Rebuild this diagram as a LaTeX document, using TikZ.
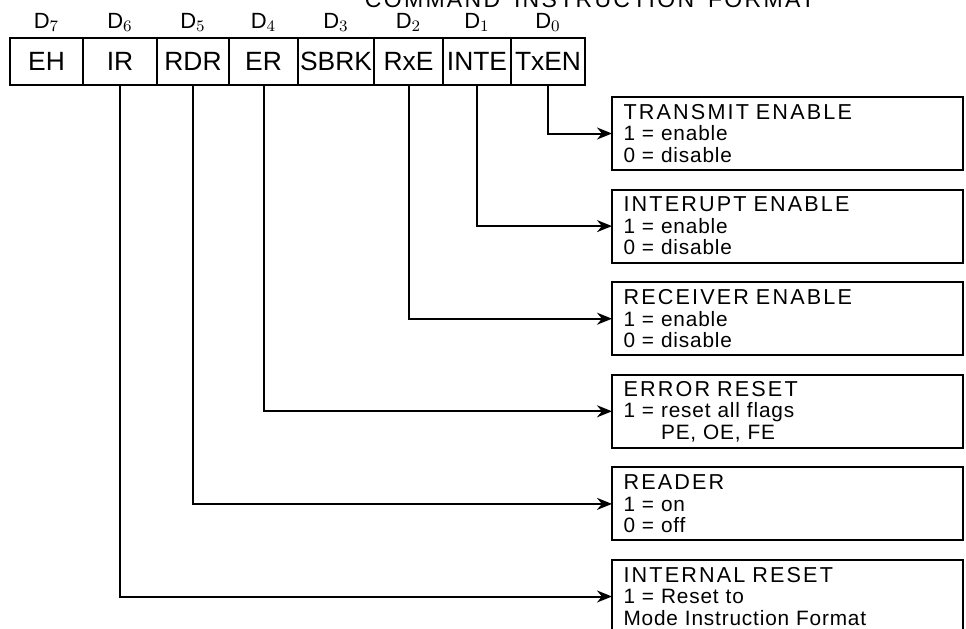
\documentclass[tikz,border=0pt]{standalone}
\usepackage{fontspec}
\usetikzlibrary{arrows.meta,positioning}
\newfontfamily\hfont{Liberation Sans}
\newfontfamily\capfont[LetterSpace=10,WordSpace=1.6]{Liberation Sans}
\newfontfamily\bodyfont[LetterSpace=4,WordSpace=1.5]{Liberation Sans}
\newcommand\boxtitle[1]{{\capfont\fontsize{10.8}{11}\selectfont #1}}
\tikzset{
    regbit/.style={
        rectangle,
        draw=black,
        line width=1pt,
        minimum height=23.5pt,
        inner sep=0pt,
        outer sep=0pt,
        font=\hfont\fontsize{13.2}{15}\selectfont
    },
    bitno/.style={
        inner sep=0pt,
        font=\hfont\fontsize{11}{13}\selectfont
    },
    descbox/.style={
        rectangle,
        draw=black,
        line width=1pt,
        minimum width=175.5pt,
        minimum height=36.5pt,
        text width=164pt,
        inner xsep=5.75pt,
        inner ysep=0pt,
        outer sep=0pt,
        align=left,
        font=\bodyfont\fontsize{10.4}{10.75}\selectfont
    },
    feed/.style={
        -{Stealth[length=7.5pt,width=6pt]},
        line width=1pt
    }
}

\begin{document}
\begin{tikzpicture}[x=0.5pt, y=-0.5pt]
\useasboundingbox (0,0) rectangle (966,628);

% heading (cut at the top)
\node[inner sep=0pt, anchor=base, font=\capfont\fontsize{11.5}{12}\selectfont] (title) at (590,7) {COMMAND INSTRUCTION FORMAT};

% command register
\node[regbit, minimum width=36.5pt] (eh) at (46.5,61.5) {EH};
\node[regbit, minimum width=37pt, right=0pt of eh] (ir) {IR};
\node[regbit, minimum width=36pt, right=0pt of ir] (rdr) {RDR};
\node[regbit, minimum width=34.5pt, right=0pt of rdr] (er) {ER};
\node[regbit, minimum width=38pt, right=0pt of er] (sbrk) {SBRK};
\node[regbit, minimum width=34.5pt, right=0pt of sbrk] (rxe) {RxE};
\node[regbit, minimum width=34pt, right=0pt of rxe] (inte) {INTE};
\node[regbit, minimum width=37pt, right=0pt of inte] (txen) {TxEN};

% bit numbers
\node[bitno, above=5pt of eh, anchor=base] (d7) {D$_{\scriptstyle 7}$};
\node[bitno, above=5pt of ir, anchor=base] (d6) {D$_{\scriptstyle 6}$};
\node[bitno, above=5pt of rdr, anchor=base] (d5) {D$_{\scriptstyle 5}$};
\node[bitno, above=5pt of er, anchor=base] (d4) {D$_{\scriptstyle 4}$};
\node[bitno, above=5pt of sbrk, anchor=base] (d3) {D$_{\scriptstyle 3}$};
\node[bitno, above=5pt of rxe, anchor=base] (d2) {D$_{\scriptstyle 2}$};
\node[bitno, above=5pt of inte, anchor=base] (d1) {D$_{\scriptstyle 1}$};
\node[bitno, above=5pt of txen, anchor=base] (d0) {D$_{\scriptstyle 0}$};

% descriptions
\node[descbox] (txbox) at (787.5,133.5) {\boxtitle{TRANSMIT ENABLE}\\ 1 = enable\\ 0 = disable};
\node[descbox, below=9.8pt of txbox] (intbox) {\boxtitle{INTERUPT ENABLE}\\ 1 = enable\\ 0 = disable};
\node[descbox, below=9.8pt of intbox] (rxbox) {\boxtitle{RECEIVER ENABLE}\\ 1 = enable\\ 0 = disable};
\node[descbox, below=9.8pt of rxbox] (errbox) {\boxtitle{ERROR RESET}\\ 1 = reset all flags\\ \phantom{1 = }PE, OE, FE};
\node[descbox, below=9.8pt of errbox] (rdrbox) {\boxtitle{READER}\\ 1 = on\\ 0 = off};
\node[descbox, below=9.8pt of rdrbox] (irbox) {\boxtitle{INTERNAL RESET}\\ 1 = Reset to\\ Mode Instruction Format};

% bit lines
\draw[feed] (txen.south) |- (txbox.west);
\draw[feed] (inte.south) |- (intbox.west);
\draw[feed] (rxe.south) |- (rxbox.west);
\draw[feed] (er.south) |- (errbox.west);
\draw[feed] (rdr.south) |- (rdrbox.west);
\draw[feed] (ir.south) |- (irbox.west);
\end{tikzpicture}
\end{document}
